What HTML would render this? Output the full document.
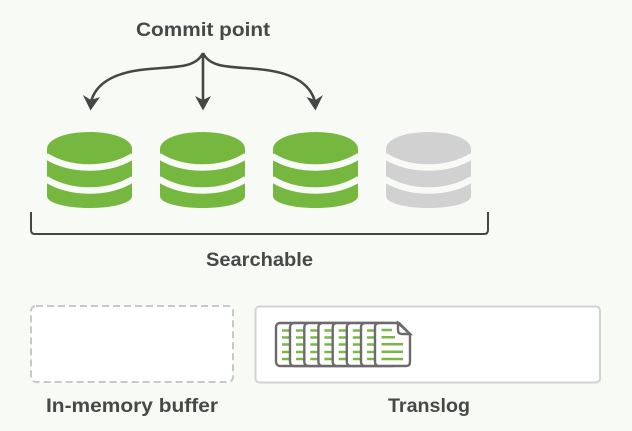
<!DOCTYPE html>
<html><head><meta charset="utf-8"><style>
html,body{margin:0;padding:0;background:#f8faf6;width:632px;height:431px;overflow:hidden}
svg{display:block}
text{font-family:"Liberation Sans",sans-serif;font-weight:700;font-size:19.5px;fill:#484848}
</style></head><body>
<svg width="632" height="431" viewBox="0 0 632 431" xmlns="http://www.w3.org/2000/svg">
<defs>
<g id="c">
<path d="M0,149 C0,139 19,132 42.5,132 C66,132 85,139 85,149 L85,196 C85,203 66,208 42.5,208 C19,208 0,203 0,196 Z"/>
<path d="M-1,156 C11,163.500 25,167.500 42.5,167.500 C60,167.500 74,163.500 86,156 M-1,179 C11,186.500 25,190.500 42.5,190.500 C60,190.500 74,186.500 86,179" fill="none" stroke="#f8faf6" stroke-width="6.5"/>
</g>
<g id="s">
<rect x="0" y="0" width="35" height="43" rx="4" fill="#fff" stroke="#6b6b6b" stroke-width="2.4"/>
<path d="M6,7.5H17M6,14.5H17M6,21.5H17M6,29H17M6,36H17" stroke="#7ab845" stroke-width="2.5" fill="none"/>
</g>
</defs>
<text x="136" y="36" textLength="134" lengthAdjust="spacingAndGlyphs">Commit point</text>
<g fill="none" stroke="#464646" stroke-width="2.6">
<path d="M203,53 C195,70 170,66 140,70 C110,74 95,86 91,102"/>
<path d="M203,53 V102"/>
<path d="M203,53 C211,70 236,66 266,70 C296,74 311,86 315,102"/>
</g>
<g fill="#464646">
<path d="M90.500,110.500 L83,95 L91,100 L100,97 Z"/>
<path d="M203,110.500 L195,96 L203,100 L211,96 Z"/>
<path d="M315.500,110.500 L306.500,97 L315.500,100 L323,95 Z"/>
</g>
<g fill="#76b83f">
<use href="#c" x="47"/>
<use href="#c" x="160"/>
<use href="#c" x="273"/>
</g>
<g fill="#d1d1d1"><use href="#c" x="386"/></g>
<path d="M31,212 V230 Q31,234 35,234 H484 Q488,234 488,230 V212" fill="none" stroke="#464646" stroke-width="2"/>
<text x="206" y="266" textLength="107" lengthAdjust="spacingAndGlyphs">Searchable</text>
<rect x="31" y="306" width="202" height="76" rx="5" fill="#fff" stroke="#c8c8c8" stroke-width="2" stroke-dasharray="7 4"/>
<rect x="255.500" y="306.500" width="344.500" height="76" rx="4" fill="#fff" stroke="#d2d2d2" stroke-width="2"/>
<use href="#s" x="276" y="323"/>
<use href="#s" x="290" y="323"/>
<use href="#s" x="304.300" y="323"/>
<use href="#s" x="318.400" y="323"/>
<use href="#s" x="332.700" y="323"/>
<use href="#s" x="346.800" y="323"/>
<use href="#s" x="361" y="323"/>
<path d="M379,323 H399 L410,334 V362 Q410,366 406,366 H379 Q375,366 375,362 V327 Q375,323 379,323 Z" fill="#fff" stroke="#6b6b6b" stroke-width="2.4"/>
<path d="M398,323 V330 Q398,334 402,334 H410 Z" fill="#fff" stroke="#6b6b6b" stroke-width="2.4"/>
<path d="M381.500,330H392M381.500,337.300H395M381.500,344.300H403M381.500,351.700H403M381.500,359H403" stroke="#7ab845" stroke-width="2.5" fill="none"/>
<text x="46" y="412" textLength="172" lengthAdjust="spacingAndGlyphs">In-memory buffer</text>
<text x="388" y="412" textLength="82" lengthAdjust="spacingAndGlyphs">Translog</text>
</svg>
</body></html>
